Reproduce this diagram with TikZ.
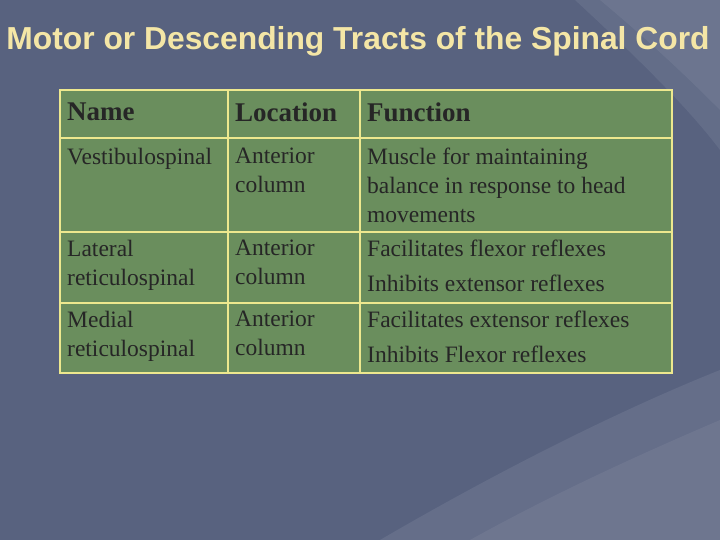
\documentclass[tikz,border=0pt]{standalone}
\usepackage{fontspec}
\setmainfont{Liberation Serif}
\newfontfamily\titlefont{Liberation Sans}
\begin{document}
\begin{tikzpicture}[x=1pt,y=-1pt,
  cell/.style={draw=yellow!60!olive!40,line width=1.5pt,fill=tabgreen},
  txt/.style={anchor=north west,align=left,text=black!85,font=\fontsize{23.5}{29}\selectfont,inner sep=0pt},
  hd/.style={txt,font=\bfseries\fontsize{27}{30}\selectfont}]
\definecolor{bgblue}{HTML}{58627F}
\definecolor{tabgreen}{HTML}{6A8E5D}
\definecolor{titlecol}{HTML}{F4E6A6}
\fill[bgblue] (0,0) rectangle (720,540);
\fill[white,opacity=0.07] (575,0) .. controls (640,60) and (690,110) .. (720,150) -- (720,0) -- cycle;
\fill[white,opacity=0.06] (600,0) .. controls (660,50) and (700,90) .. (720,110) -- (720,0) -- cycle;
\fill[white,opacity=0.08] (380,540) .. controls (500,470) and (620,410) .. (720,370) -- (720,540) -- cycle;
\fill[white,opacity=0.06] (470,540) .. controls (560,490) and (650,450) .. (720,420) -- (720,540) -- cycle;
\node[text=titlecol,font=\titlefont\bfseries\fontsize{31.8}{34}\selectfont,inner sep=0pt] (title) at (358,41) {Motor or Descending Tracts of the Spinal Cord};
\foreach \xa/\xb in {60/228,228/360,360/672}{
  \foreach \ya/\yb in {90/138,138/232,232/303,303/373}{
    \draw[cell] (\xa,\ya) rectangle (\xb,\yb);}}
\node[hd] (h1) at (67,103) {Name};
\node[hd] (h2) at (235,103) {Location};
\node[hd] (h3) at (367,103) {Function};
\node[txt] (a1) at (67,148) {Vestibulospinal};
\node[txt] (a2) at (235,148) {Anterior\\column};
\node[txt] (a3) at (367,148) {Muscle for maintaining\\balance in response to head\\movements};
\node[txt] (b1) at (67,240) {Lateral\\reticulospinal};
\node[txt] (b2) at (235,240) {Anterior\\column};
\node[txt,font=\fontsize{23.5}{35}\selectfont] (b3) at (367,240) {Facilitates flexor reflexes\\Inhibits extensor reflexes};
\node[txt] (c1) at (67,311) {Medial\\reticulospinal};
\node[txt] (c2) at (235,311) {Anterior\\column};
\node[txt,font=\fontsize{23.5}{35}\selectfont] (c3) at (367,311) {Facilitates extensor reflexes\\Inhibits Flexor reflexes};
\end{tikzpicture}
\end{document}
